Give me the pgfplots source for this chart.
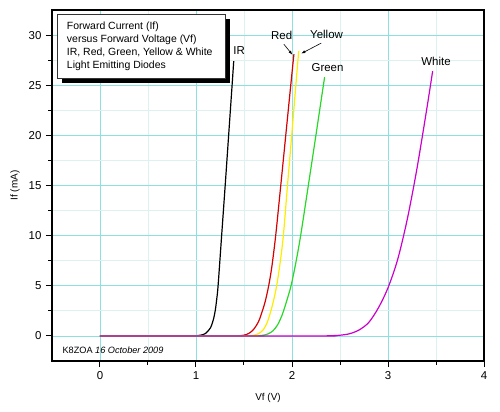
\documentclass[border=0pt]{standalone}
\usepackage{pgfplots}
\pgfplotsset{compat=1.18}
\usetikzlibrary{arrows.meta}
\usepackage{fontspec}
\setmainfont{Liberation Sans}
\definecolor{gridmaj}{RGB}{140,224,224}
\definecolor{gridmin}{RGB}{222,240,240}
\definecolor{cred}{RGB}{215,0,0}
\definecolor{cyellow}{RGB}{255,235,0}
\definecolor{cgreen}{RGB}{40,215,40}
\definecolor{cwhite}{RGB}{204,0,204}
\begin{document}
\begin{tikzpicture}
\useasboundingbox (-52bp,-51bp) rectangle (448bp,361bp);
\begin{axis}[
  scale only axis, width=432bp, height=351bp,
  xmin=-0.5, xmax=4, ymin=-2.5, ymax=32.5,
  xtick={0,1,2,3,4}, ytick={0,5,10,15,20,25,30},
  minor x tick num=1, minor y tick num=1,
  grid=both,
  major grid style={gridmaj, line width=0.8bp},
  minor grid style={gridmin, line width=0.8bp},
  tick pos=left, tick align=outside,
  major tick length=6bp, minor tick length=3.5bp,
  every tick/.style={black, line width=1bp},
  axis line style={black, line width=1.6bp},
  /pgf/number format/assume math mode=true,
  ticklabel style={font=\fontsize{11.5}{11.5}\selectfont},
  yticklabel style={xshift=-1bp},
  xticklabel style={yshift=-1bp},
  xlabel={Vf (V)}, ylabel={If (mA)},
  label style={font=\fontsize{11.8}{11.8}\selectfont},
  every axis y label/.style={at={(axis description cs:0,0.5)}, xshift=-37bp, rotate=90, anchor=center},
  every axis x label/.style={at={(axis description cs:0.5,0)}, yshift=-37bp, anchor=center},
  clip=false,
]
\addplot[black, line width=1.2bp, smooth, tension=0.5] coordinates {
(0,0) (0.95,0) (1.0,0.02) (1.05,0.08) (1.1,0.25) (1.15,0.8) (1.18,1.6) (1.2,2.5) (1.215,3.6) (1.23,5) (1.267,10) (1.304,15) (1.34,20) (1.376,25) (1.393,27.4)};
\addplot[cred, line width=1.2bp, smooth, tension=0.5] coordinates {
(0,0) (1.4,0) (1.45,0.02) (1.5,0.08) (1.55,0.25) (1.6,0.65) (1.65,1.4) (1.68,2.16) (1.72,3.4) (1.757,5) (1.79,6.9) (1.83,10) (1.883,15) (1.935,20) (1.987,25) (2.02,28.1)};
\addplot[cyellow, line width=1.2bp, smooth, tension=0.5] coordinates {
(0,0) (1.5,0) (1.55,0.02) (1.6,0.07) (1.65,0.22) (1.7,0.6) (1.74,1.3) (1.77,2.16) (1.805,3.4) (1.84,5) (1.875,7.2) (1.91,10) (1.953,15) (1.997,20) (2.04,25) (2.07,28.4)};
\addplot[cgreen, line width=1.2bp, smooth, tension=0.5] coordinates {
(0,0) (1.6,0) (1.65,0.02) (1.7,0.07) (1.75,0.2) (1.8,0.5) (1.85,1.1) (1.9,2.16) (1.945,3.5) (1.99,5) (2.04,7.3) (2.09,10) (2.17,15) (2.249,20) (2.327,25) (2.34,25.8)};
\addplot[cwhite, line width=1.2bp, smooth, tension=0.5] coordinates {
(0,0) (2.3,0) (2.4,0.02) (2.5,0.07) (2.6,0.22) (2.7,0.6) (2.8,1.35) (2.9,2.8) (3.0,4.8) (3.1,7.6) (3.2,11.6) (3.3,16.6) (3.4,22.4) (3.465,26.4)};
% text box with shadow
\fill[black] ([xshift=5bp,yshift=-5bp]axis cs:-0.444,25.67) rectangle ([xshift=5bp,yshift=-5bp]axis cs:1.307,32.07);
\draw[fill=white, draw=black!80, line width=0.8bp] (axis cs:-0.444,25.67) rectangle (axis cs:1.307,32.07);
\begin{scope}[every node/.style={font=\fontsize{10.5}{13}\selectfont, inner sep=0pt, anchor=base west}]
\node at (axis cs:-0.346,30.58) {Forward Current (If)};
\node at (axis cs:-0.346,29.22) {versus Forward Voltage (Vf)};
\node at (axis cs:-0.346,27.92) {IR, Red, Green, Yellow \& White};
\node at (axis cs:-0.346,26.63) {Light Emitting Diodes};
\node[font=\fontsize{9.2}{9.2}\selectfont] at (axis cs:-0.392,-1.72) {K8ZOA \textit{16 October 2009}};
\end{scope}
\begin{scope}[every node/.style={font=\fontsize{11.5}{11.5}\selectfont, inner sep=0pt}]
\node[anchor=west] at (axis cs:1.387,28.5) {IR};
\node at (axis cs:1.892,29.98) {Red};
\node at (axis cs:2.36,30.08) {Yellow};
\node at (axis cs:2.37,26.79) {Green};
\node at (axis cs:3.50,27.4) {White};
\end{scope}
\draw[-{Latex[length=4bp,width=3bp]}, line width=0.6bp] (axis cs:1.916,29.08) -- (axis cs:2.003,28.05);
\draw[-{Latex[length=4bp,width=3bp]}, line width=0.6bp] (axis cs:2.305,29.2) -- (axis cs:2.097,28.16);
\end{axis}
\end{tikzpicture}
\end{document}
